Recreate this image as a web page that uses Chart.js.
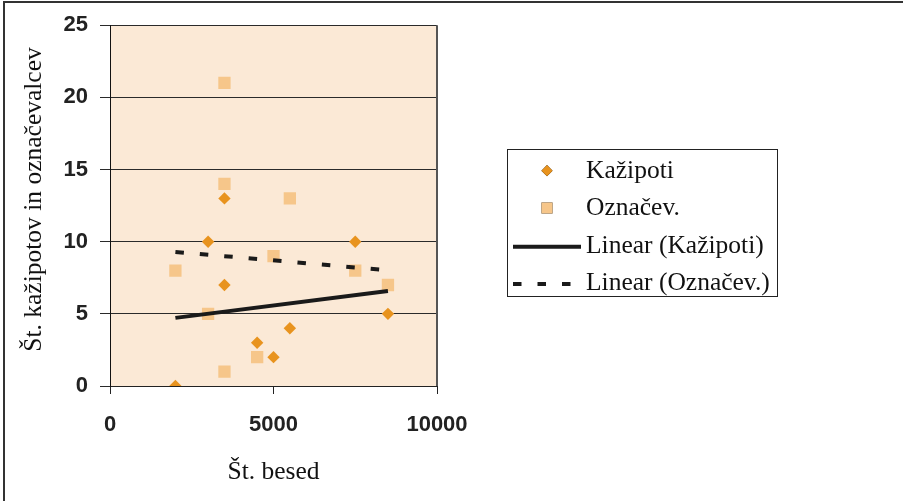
<!DOCTYPE html>
<html>
<head>
<meta charset="utf-8">
<script src="https://cdn.jsdelivr.net/npm/chart.js@4"></script>
<style>
html,body{margin:0;padding:0;background:#fff;overflow:hidden;}
canvas{display:block;}
</style>
</head>
<body>
<canvas id="c" width="903" height="501"></canvas>
<script>
// ---- data ----
const kazX = [2000, 3000, 3500, 3500, 4500, 5000, 5500, 7500, 8500];
const kazY = [0, 10, 13, 7, 3, 2, 4, 10, 5];
const oznX = [2000, 3000, 3500, 3500, 3500, 4500, 5000, 5500, 7500, 8500];
const oznY = [8, 5, 21, 14, 1, 2, 9, 13, 8, 7];
const trendKazX = [2000, 8500];
const trendKazY = [4.72, 6.59];
const trendOznX = [2000, 8500];
const trendOznY = [9.29, 8.02];
const xTicks = [0, 5000, 10000];
const yTicks = [0, 5, 10, 15, 20, 25];
const seriesLabels = ['Kažipoti', 'Označev.', 'Linear (Kažipoti)', 'Linear (Označev.)'];
const xTitle = 'Št. besed';
const yTitle = 'Št. kažipotov in označevalcev';

const zip = (xs, ys) => xs.map((x, i) => ({x: x, y: ys[i]}));

const DIAMOND = '#E8931E';
const SQUARE = '#F6C68A';
const SERIF = '"Liberation Serif", "Times New Roman", serif';
const SERIF_SIZE = 25.5;

const framePlugin = {
  id: 'frame',
  beforeDraw(chart) {
    const ctx = chart.ctx, a = chart.chartArea;
    ctx.save();
    ctx.fillStyle = '#fff';
    ctx.fillRect(0, 0, chart.width, chart.height);
    ctx.strokeStyle = '#333';
    ctx.lineWidth = 2;
    ctx.beginPath();
    ctx.moveTo(4, chart.height);
    ctx.lineTo(4, 2);
    ctx.lineTo(chart.width, 2);
    ctx.stroke();
    ctx.fillStyle = '#FBE9D6';
    ctx.fillRect(a.left, a.top, a.right - a.left, a.bottom - a.top);
    ctx.restore();
  },
  afterDraw(chart) {
    const ctx = chart.ctx, a = chart.chartArea;
    ctx.save();
    ctx.strokeStyle = '#555';
    ctx.lineWidth = 2;
    ctx.beginPath();
    ctx.moveTo(a.right, a.top);
    ctx.lineTo(a.right, a.bottom);
    ctx.stroke();
    ctx.fillStyle = '#111';
    ctx.font = SERIF_SIZE + 'px ' + SERIF;
    ctx.textAlign = 'center';
    ctx.textBaseline = 'alphabetic';
    ctx.fillText(xTitle, (a.left + a.right) / 2, 479);
    ctx.translate(41, 199.5);
    ctx.rotate(-Math.PI / 2);
    ctx.fillText(yTitle, 0, 0);
    ctx.restore();

    ctx.save();
    ctx.strokeStyle = '#222';
    ctx.lineWidth = 1;
    ctx.strokeRect(507.5, 149.5, 270, 147);
    const ds = chart.data.datasets;
    const rows = [177.7, 215, 252.7, 290];
    ctx.font = SERIF_SIZE + 'px ' + SERIF;
    ctx.textAlign = 'left';
    ctx.textBaseline = 'alphabetic';
    rows.forEach((by, r) => {
      const d = ds[r];
      const cy = by - 7;
      if (d.showLine) {
        ctx.save();
        ctx.strokeStyle = d.borderColor;
        ctx.lineWidth = d.borderWidth;
        ctx.setLineDash(d.borderDash || []);
        ctx.beginPath();
        ctx.moveTo(513, cy + 1);
        ctx.lineTo(581, cy + 1);
        ctx.stroke();
        ctx.restore();
      } else {
        ctx.save();
        Chart.helpers.drawPoint(ctx, {
          pointStyle: d.pointStyle,
          radius: d.pointStyle === 'rect' ? 7.8 : 5.6,
          rotation: 0,
          borderWidth: 0
        }, 547, cy);
        ctx.fillStyle = d.backgroundColor;
        ctx.fill();
        ctx.restore();
      }
      ctx.fillStyle = '#111';
      ctx.fillText(d.label, 586, by);
    });
    ctx.restore();
  }
};

new Chart(document.getElementById('c'), {
  type: 'scatter',
  data: {
    datasets: [
      {
        label: seriesLabels[0],
        data: zip(kazX, kazY),
        pointStyle: 'rectRot',
        pointRadius: 6.2,
        pointBorderWidth: 0,
        backgroundColor: DIAMOND,
        borderColor: DIAMOND,
        order: 2
      },
      {
        label: seriesLabels[1],
        data: zip(oznX, oznY),
        pointStyle: 'rect',
        pointRadius: 8.7,
        pointBorderWidth: 0,
        backgroundColor: SQUARE,
        borderColor: SQUARE,
        order: 3
      },
      {
        label: seriesLabels[2],
        data: zip(trendKazX, trendKazY),
        showLine: true,
        pointRadius: 0,
        borderColor: '#1a1a1a',
        borderWidth: 4,
        order: 0
      },
      {
        label: seriesLabels[3],
        data: zip(trendOznX, trendOznY),
        showLine: true,
        pointRadius: 0,
        borderColor: '#1a1a1a',
        borderWidth: 4,
        borderDash: [8.5, 16],
        order: 1
      }
    ]
  },
  options: {
    responsive: false,
    devicePixelRatio: 1,
    animation: false,
    events: [],
    layout: {padding: {left: 0, top: 22.2, right: 466, bottom: 0}},
    plugins: {legend: {display: false}, tooltip: {enabled: false}},
    scales: {
      x: {
        type: 'linear',
        min: 0, max: 10000,
        afterBuildTicks: s => { s.ticks = xTicks.map(v => ({value: v})); },
        afterFit: s => { s.height = 115; },
        ticks: {
          callback: v => String(v),
          color: '#222',
          font: {family: '"Liberation Sans", Arial, sans-serif', size: 22, weight: 'bold'},
          padding: 18,
          maxRotation: 0
        },
        grid: {drawOnChartArea: false, drawTicks: true, tickLength: 8, color: '#222', lineWidth: 1},
        border: {display: true, color: '#222', width: 1}
      },
      y: {
        type: 'linear',
        min: 0, max: 25,
        afterBuildTicks: s => { s.ticks = yTicks.map(v => ({value: v})); },
        afterFit: s => { s.width = 110; },
        ticks: {
          callback: v => String(v),
          color: '#222',
          font: {family: '"Liberation Sans", Arial, sans-serif', size: 22, weight: 'bold'},
          padding: 12
        },
        grid: {drawOnChartArea: true, drawTicks: true, tickLength: 10, color: '#2a2a2a', lineWidth: 1},
        border: {display: true, color: '#111', width: 1}
      }
    }
  },
  plugins: [framePlugin]
});
</script>
</body>
</html>
